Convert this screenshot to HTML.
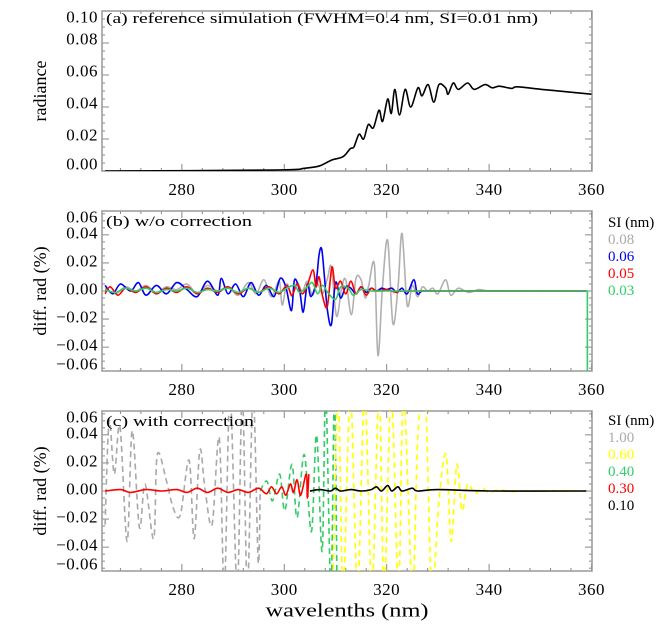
<!DOCTYPE html>
<html><head><meta charset="utf-8"><style>
html,body{margin:0;padding:0;background:#fff;}
svg{display:block;font-family:"Liberation Serif",serif;}
</style></head><body>
<svg id="chart" width="669" height="635" viewBox="0 0 669 635"></svg>
<script>
// ---------- data ----------
const xTicks = [280, 300, 320, 340, 360];
const aTicks = [0.00, 0.02, 0.04, 0.06, 0.08, 0.10];
const diffTicks = [-0.06, -0.04, -0.02, 0.00, 0.02, 0.04, 0.06];

const radWl  = [265,298.4,303.9,306.7,308.1,309.4,311.5,312.9,313.6,314.6,315.5,316.4,317.4,318.5,319.2,320.2,320.9,321.6,322.5,323.6,324.7,326.1,326.9,328.1,329.2,330.2,331.5,332,333,334,335.8,337.1,339.2,340.6,342,344.4,345.5,350.3,355.2,360];
const radVal = [0,0.0006,0.0017,0.003,0.005,0.007,0.009,0.014,0.015,0.023,0.020,0.029,0.027,0.038,0.031,0.045,0.036,0.051,0.035,0.051,0.040,0.052,0.047,0.054,0.043,0.054,0.052,0.048,0.055,0.051,0.055,0.051,0.054,0.052,0.053,0.0516,0.0526,0.051,0.0495,0.048];

const bGrayWl  = [265,267,269,271,273,275,277,279,281,283,285,287,289,291,293,294.5,296,297.5,299,299.6,300.5,301.5,302.5,303.5,304.5,305.5,306.5,307.5,308.5,309.2,310.2,311.2,312,313.1,314,315,315.8,316.5,317.6,318.3,319.2,320.2,321.2,322.2,323.0,324,325,326,327,328,329,330,331.5,332.5,334,336,338,340,345,359];
const bGrayVal = [0.002,-0.002,0.003,0.000,0.004,-0.001,0.003,0.001,0.005,-0.002,0.004,0.000,0.003,-0.003,0.006,-0.002,0.008,-0.004,0.007,-0.010,0.005,-0.004,0.006,0.000,0.007,-0.003,0.005,-0.002,0.010,0.017,-0.018,0.002,0.008,-0.017,0.009,0.008,-0.005,0.004,0.019,-0.046,0.004,0.036,-0.023,0.002,0.041,-0.010,0.004,-0.004,0.003,0.000,0.002,-0.002,0.008,-0.003,0.002,-0.001,0.001,0.000,0.000,0.000];
const bBlueWl  = [265,266.5,268,270,271.5,273,275,277,279,281,283,285,287,287.7,289,290.5,292,293.5,295,296.5,298,299.2,300.3,301.4,302,303,303.7,304.5,305.2,306.2,306.8,307.3,307.8,308.4,309.2,310,311,312,313,314,315,316,317,318,319,320,321,322,323,324,325.3,326,327,330,359];
const bBlueVal = [0.004,-0.002,0.005,0.000,0.006,-0.003,0.004,-0.002,0.006,0.001,-0.004,0.007,-0.003,0.009,-0.002,0.005,-0.004,0.006,-0.003,0.004,-0.004,0.009,0.003,-0.014,0.008,0.000,-0.015,0.005,-0.004,0.006,0.026,0.030,0.012,-0.013,-0.024,0.006,-0.005,0.003,0.002,-0.002,0.003,-0.001,0.002,0.000,0.002,0.001,0.002,-0.001,0.002,-0.002,0.008,-0.002,0.000,0.000,0.000];
const bRedWl  = [265,266,267.5,269,271,273,275,277,279,281,283,285,287,289,291,293,295,297,299,300.5,301.5,302.5,303.5,304.5,305.6,306.2,306.8,307.5,308.4,309.3,310,311,312,313,314,315,316,317,318,320,322,325,359];
const bRedVal = [-0.002,0.003,-0.003,0.002,-0.001,0.003,-0.002,0.002,-0.001,0.003,-0.002,0.002,-0.001,0.003,-0.002,0.002,-0.001,0.003,-0.002,0.004,-0.003,0.005,-0.002,0.004,0.015,0.003,0.010,-0.004,-0.011,0.017,0.002,0.007,-0.002,0.007,-0.002,0.003,-0.003,0.002,0.000,0.001,-0.001,0.000,0.000];
const bGreenWl  = [265,267,269,271,273,275,277,279,281,283,285,287,289,291,293,295,297,299,300.5,302,303,304.5,305.5,306.5,307.5,308.5,310,311,312.5,313.5,315,317,320,330,340,350,359.2];
const bGreenVal = [0.001,-0.001,0.002,0.000,0.002,-0.001,0.001,0.000,0.002,-0.001,0.001,0.000,0.002,-0.001,0.002,-0.001,0.002,-0.001,0.002,0.004,-0.001,0.003,0.006,-0.002,0.004,-0.001,-0.006,0.003,0.002,-0.003,0.001,0.000,0.000,0.000,0.000,0.000,0.000];
const bGreenDropWl  = [359.2, 359.2];
const bGreenDropVal = [0.000, -0.07];

const cGrayWl  = [265,265.8,266.8,267.9,269.3,270.3,271.7,272.8,274.5,275.2,277,278.3,279.7,281.4,282.4,283.5,284.5,285.9,287.3,288.3,289.4,290.8,291.8,292.8,293.9,294.9,295.3];
const cGrayVal = [-0.024,0.05,0.012,0.046,-0.036,0.043,-0.026,0.005,-0.034,0.026,0.007,-0.012,-0.017,0.022,-0.034,0.029,0.002,-0.024,0.038,-0.07,0.07,-0.07,0.07,-0.07,0.07,-0.05,0.000];
const cGreenWl  = [295.3,296.6,297.7,299.1,300.1,301.5,302.5,303.9,305.3,306.3,307.4,308.1,309.1,309.8,310.3];
const cGreenVal = [0.000,0.007,-0.007,0.012,-0.014,0.019,-0.019,0.026,-0.029,0.040,-0.043,0.07,-0.07,0.07,-0.07];
const cYellowWl  = [309.5,310.5,311.5,312.9,314.3,315.7,317.1,318.5,319.5,320.9,322.3,323.3,325,326.1,327.5,328.8,330.2,331.6,332.6,333.7,334.7,335.8,337.2,338.6,340,342,344.2,347,359];
const cYellowVal = [-0.07,0.07,-0.07,0.07,-0.07,0.07,-0.07,0.07,-0.07,0.07,-0.07,0.07,-0.07,0.040,0.07,-0.07,-0.007,0.026,-0.036,0.019,-0.014,0.005,-0.002,0.002,-0.001,0.001,-0.0005,0.000,0.000];
const cRedWl  = [265,268,270,273,276,279,281,283,285,287,289,291,293,295,296.5,297.5,298.5,299.5,300.3,301.2,301.8,302.5,303.2,304.3,304.5,304.8];
const cRedVal = [0.000,0.001,-0.001,0.001,0.000,0.001,-0.001,0.002,-0.001,0.002,-0.001,0.001,-0.001,0.002,-0.002,0.003,-0.002,0.003,-0.003,0.005,-0.001,0.008,-0.003,0.012,-0.005,0.012];
const cBlackWl  = [305,307,309,310,311,313,315,317,318,319,320.2,321,322.2,323,325,326,330,340,359];
const cBlackVal = [0.000,0.001,0.000,0.002,0.000,0.001,0.000,0.001,0.003,0.000,0.004,0.000,0.003,0.000,0.002,0.000,0.001,0.000,0.000];

// ---------- layout ----------
const NS = "http://www.w3.org/2000/svg";
const svg = document.getElementById('chart');
const X0 = 102, X1 = 592, XMIN = 264.4, XMAX = 360.1;
function xs(w){ return X0 + (w - XMIN) * (X1 - X0) / (XMAX - XMIN); }
function mk(tag, attrs, parent){ const e = document.createElementNS(NS, tag); for (const k in attrs) e.setAttribute(k, attrs[k]); (parent||svg).appendChild(e); return e; }

const panels = [
  {key:'a', top:11, bot:171, ymin:0, ymax:0.1},
  {key:'b', top:211, bot:371, ymin:-0.057, ymax:0.057},
  {key:'c', top:411, bot:571, ymin:-0.057, ymax:0.057}
];
function ysOf(p){ return v => p.bot - (v - p.ymin) * (p.bot - p.top) / (p.ymax - p.ymin); }

const defs = mk('defs', {});
panels.forEach(p => {
  const cp = mk('clipPath', {id:'clip-' + p.key}, defs);
  mk('rect', {x:X0, y:p.top, width:X1 - X0, height:p.bot - p.top}, cp);
});

function drawFrame(p, yticks, labelOffset){
  const g = mk('g', {});
  
  
  const ys = ysOf(p);
  for (let w = 268; w <= 360; w += 4) {
    const x = xs(w);
    const len = (w % 20 === 0) ? 7 : 3;
    mk('line', {x1:x, x2:x, y1:p.bot, y2:p.bot - len, stroke:'#888', 'stroke-width':1}, g);
    mk('line', {x1:x, x2:x, y1:p.top, y2:p.top + len, stroke:'#888', 'stroke-width':1}, g);
  }
  const step = 0.005;
  for (let v = Math.ceil(p.ymin / step) * step; v <= p.ymax + 1e-9; v += step) {
    const y = ys(v);
    const major = Math.abs(Math.round(v * 50) - v * 50) < 1e-6;
    const len = major ? 7 : 3;
    mk('line', {x1:X0, x2:X0 + len, y1:y, y2:y, stroke:'#888', 'stroke-width':1}, g);
    mk('line', {x1:X1, x2:X1 - len, y1:y, y2:y, stroke:'#888', 'stroke-width':1}, g);
  }
  mk('rect', {x:X0, y:p.top, width:X1 - X0, height:p.bot - p.top, fill:'none', stroke:'#999', 'stroke-width':1.5}, g);
  yticks.forEach(v => {
    let y = ys(v) + labelOffset;
    y = Math.max(p.top + 6, Math.min(p.bot - 7, y));
    const t = mk('text', {x:98, y:y, 'text-anchor':'end', 'dominant-baseline':'central', 'font-size':17, fill:'#000', 'letter-spacing':'0.5'}, g);
    t.textContent = (v < 0 ? '\u2212' : '') + Math.abs(v).toFixed(2);
    
    
  });
  xTicks.forEach(w => {
    const t = mk('text', {x:xs(w), y:p.bot + 24, 'text-anchor':'middle', 'font-size':17, fill:'#000', 'letter-spacing':'0.5'}, g);
    t.textContent = String(w);
    
    
  });
}

function smoothPath(pts){
  let d = 'M' + pts[0][0].toFixed(2) + ' ' + pts[0][1].toFixed(2);
  for (let i = 0; i < pts.length - 1; i++) {
    const p0 = pts[Math.max(0, i - 1)], p1 = pts[i], p2 = pts[i + 1], p3 = pts[Math.min(pts.length - 1, i + 2)];
    const c1x = p1[0] + (p2[0] - p0[0]) / 6, c1y = p1[1] + (p2[1] - p0[1]) / 6;
    const c2x = p2[0] - (p3[0] - p1[0]) / 6, c2y = p2[1] - (p3[1] - p1[1]) / 6;
    d += ' C' + c1x.toFixed(2) + ' ' + c1y.toFixed(2) + ' ' + c2x.toFixed(2) + ' ' + c2y.toFixed(2) + ' ' + p2[0].toFixed(2) + ' ' + p2[1].toFixed(2);
  }
  return d;
}

function drawLine(p, wl, vals, color, name, dashed){
  const ys = ysOf(p);
  const pts = wl.map((w, i) => [xs(w), ys(vals[i])]);
  const path = mk('path', {d:smoothPath(pts), fill:'none', stroke:color, 'stroke-width':1.6, 'stroke-linejoin':'round', 'clip-path':'url(#clip-' + p.key + ')'});
  if (dashed) path.setAttribute('stroke-dasharray', '6 4');
  
  
}

function text(x, y, s, size, color, name, extra){
  const t = mk('text', Object.assign({x:x, y:y, 'font-size':size, fill:color, 'dominant-baseline':'central'}, extra || {}));
  t.textContent = s;
  
  
  return t;
}

drawFrame(panels[0], aTicks, -4);
drawLine(panels[0], radWl, radVal, '#000', 'radiance-line', false);
text(106, 19, '(a) reference simulation (FWHM=0.4 nm, SI=0.01 nm)', 15, '#000', 'panel-a-title', {textLength:432, lengthAdjust:'spacingAndGlyphs'});

drawFrame(panels[1], diffTicks, -2);
drawLine(panels[1], bGrayWl, bGrayVal, '#b0b0b0', 'series-b-si-0.08', false);
drawLine(panels[1], bBlueWl, bBlueVal, '#0000ee', 'series-b-si-0.06', false);
drawLine(panels[1], bRedWl, bRedVal, '#ff0000', 'series-b-si-0.05', false);
drawLine(panels[1], bGreenWl, bGreenVal, '#33cc66', 'series-b-si-0.03', false);
drawLine(panels[1], bGreenDropWl, bGreenDropVal, '#33cc66', 'series-b-si-0.03-edge', false);
text(106, 222, '(b) w/o correction', 15, '#000', 'panel-b-title', {textLength:146, lengthAdjust:'spacingAndGlyphs'});

drawFrame(panels[2], diffTicks, -2);
drawLine(panels[2], cGrayWl, cGrayVal, '#a8a8a8', 'series-c-si-1.00', true);
drawLine(panels[2], cGreenWl, cGreenVal, '#33cc66', 'series-c-si-0.40', true);
drawLine(panels[2], cYellowWl, cYellowVal, '#ffff00', 'series-c-si-0.60', true);
drawLine(panels[2], cRedWl, cRedVal, '#ff0000', 'series-c-si-0.30', false);
drawLine(panels[2], cBlackWl, cBlackVal, '#000', 'series-c-si-0.10', false);
text(106, 422, '(c) with correction', 15, '#000', 'panel-c-title', {textLength:148, lengthAdjust:'spacingAndGlyphs'});

const bLegLabels = ['0.08', '0.06', '0.05', '0.03'];
const bLegColors = ['#aaaaaa', '#0000ee', '#ff0000', '#33cc66'];
text(608, 223, 'SI (nm)', 15, '#000', 'legend-b-title');
bLegLabels.forEach((s, i) => {
  text(608, 240 + i * 17, s, 15, bLegColors[i], 'legend-entry');
});
const cLegLabels = ['1.00', '0.60', '0.40', '0.30', '0.10'];
const cLegColors = ['#aaaaaa', '#ffff00', '#33cc66', '#ff0000', '#000000'];
text(608, 421, 'SI (nm)', 15, '#000', 'legend-c-title');
cLegLabels.forEach((s, i) => {
  text(608, 438 + i * 17, s, 15, cLegColors[i], 'legend-entry');
});

text(0, 0, 'radiance', 18, '#000', 'y-axis-title-a', {transform:'translate(40,91) rotate(-90)', 'text-anchor':'middle'});
text(0, 0, 'diff. rad (%)', 18, '#000', 'y-axis-title-b', {transform:'translate(40,291) rotate(-90)', 'text-anchor':'middle'});
text(0, 0, 'diff. rad (%)', 18, '#000', 'y-axis-title-c', {transform:'translate(40,491) rotate(-90)', 'text-anchor':'middle'});
text(347, 611, 'wavelenths (nm)', 19, '#000', 'x-axis-title', {'text-anchor':'middle', textLength:163, lengthAdjust:'spacingAndGlyphs'});
</script>
</body></html>
